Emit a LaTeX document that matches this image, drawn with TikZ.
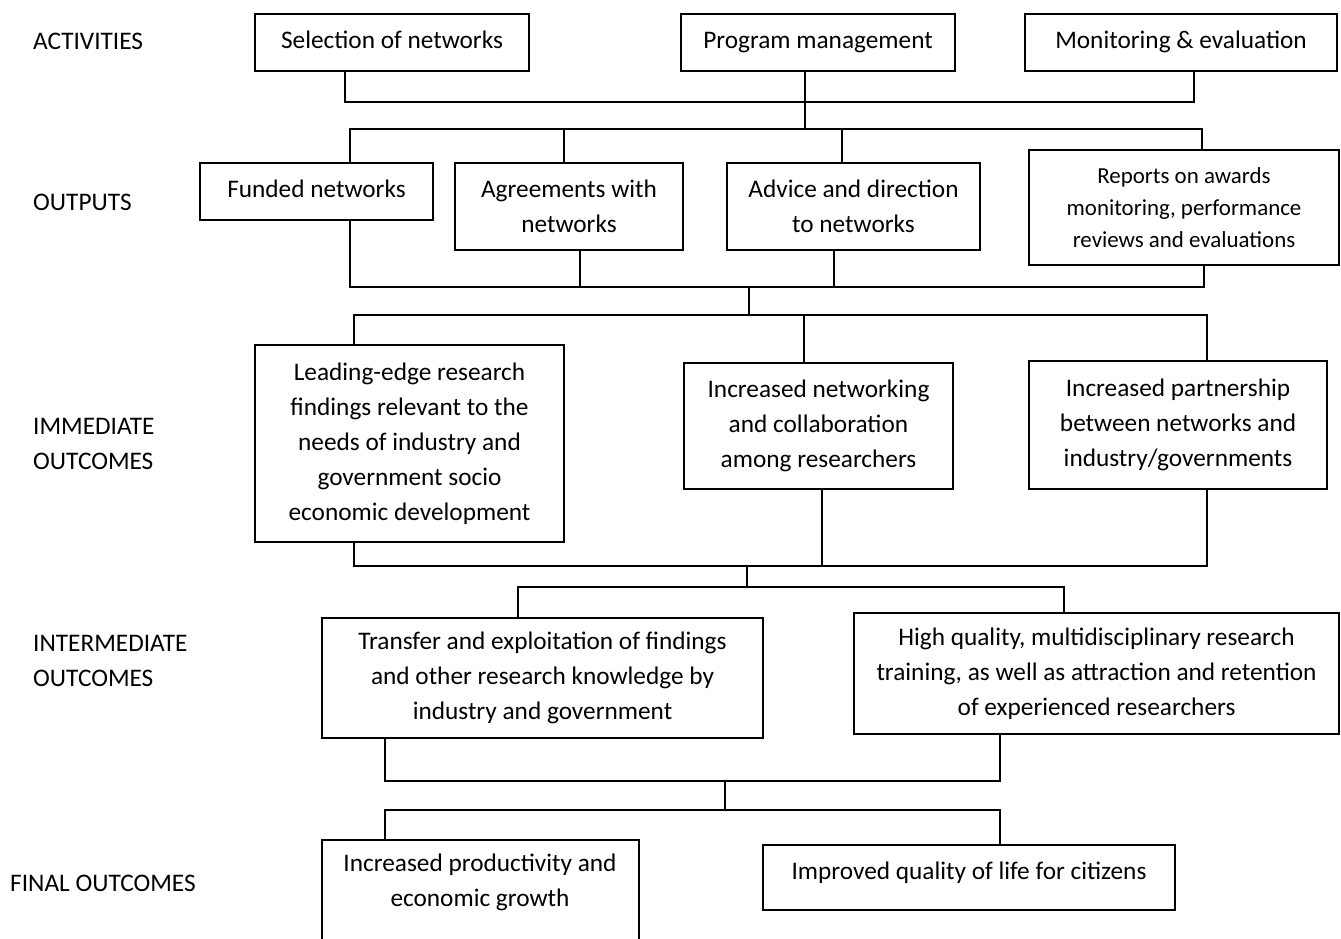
\documentclass[tikz,border=0pt]{standalone}
\usepackage{fontspec}
\setmainfont{Carlito}
\newcommand{\bodyfont}{\fontsize{25.3}{35}\selectfont}
\newcommand{\smallbodyfont}{\fontsize{22.9}{32}\selectfont}
\tikzset{
  box/.style={draw, line width=1.8pt, inner sep=0pt, align=center, font=\bodyfont},
  oneline/.style={text height=17.5pt, text depth=6pt},
  txt/.style={inner sep=0pt, align=center, font=\bodyfont},
  lbl/.style={inner sep=0pt, align=left, anchor=west, font=\bodyfont},
  conn/.style={line width=1.6pt},
}
\begin{document}
\begin{tikzpicture}[x=1pt,y=-1pt]
\path[use as bounding box] (0,0) rectangle (1341,939);
\clip (0,0) rectangle (1341,939);
\fill[white] (0,0) rectangle (1341,939);

% row labels
\node[lbl] (lact) at (33,41) {ACTIVITIES};
\node[lbl] (lout) at (33,202) {OUTPUTS};
\node[lbl] (limm) at (33,444) {IMMEDIATE\\OUTCOMES};
\node[lbl] (lint) at (33,661) {INTERMEDIATE\\OUTCOMES};
\node[lbl] (lfin) at (10,883) {FINAL OUTCOMES};

% activities
\node[box, oneline, minimum width=274, minimum height=57] (sel) at (392,42.5) {Selection of networks};
\node[box, oneline, minimum width=274, minimum height=57] (pm) at (818,42.5) {Program management};
\node[box, oneline, minimum width=312, minimum height=57] (mon) at (1181,42.5) {Monitoring \& evaluation};

% outputs
\node[box, oneline, minimum width=233, minimum height=57] (fund) at (316.5,191.5) {Funded networks};
\node[box, minimum width=228, minimum height=87] (agr) at (569,206.5) {Agreements with\\networks};
\node[box, minimum width=253, minimum height=87] (adv) at (853.5,206.5) {Advice and direction\\to networks};
\node[box, minimum width=310, minimum height=115, font=\smallbodyfont] (rep) at (1184,207.5) {Reports on awards\\monitoring, performance\\reviews and evaluations};

% immediate outcomes
\node[box, minimum width=309, minimum height=197] (lead) at (409.5,443.5) {Leading-edge research\\findings relevant to the\\needs of industry and\\government socio\\economic development};
\node[box, minimum width=269, minimum height=126] (net) at (818.5,426) {Increased networking\\and collaboration\\among researchers};
\node[box, minimum width=298, minimum height=128] (part) at (1178,425) {Increased partnership\\between networks and\\industry/governments};

% intermediate outcomes
\node[box, minimum width=441, minimum height=120] (trans) at (542.5,678) {Transfer and exploitation of findings\\and other research knowledge by\\industry and government};
\node[box, minimum width=485, minimum height=121] (hq) at (1096.5,673.5) {High quality, multidisciplinary research\\training, as well as attraction and retention\\of experienced researchers};

% final outcomes
\node[box, minimum width=317, minimum height=130] (prod) at (480.5,905) {};
\node[txt] (prodt) at (480,882) {Increased productivity and\\economic growth};
\node[box, text height=17.5pt, text depth=14pt, minimum width=412, minimum height=65] (impr) at (969,877.5) {Improved quality of life for citizens};

% junction coordinates
\coordinate (b1L) at (345,102);
\coordinate (b1M) at (805,102);
\coordinate (b1R) at (1194,102);
\coordinate (b2L) at (350,129);
\coordinate (b2M) at (805,129);
\coordinate (b2a) at (564,129);
\coordinate (b2b) at (842,129);
\coordinate (b2R) at (1202,129);
\coordinate (b3L) at (350,287);
\coordinate (b3a) at (580,287);
\coordinate (b3b) at (834,287);
\coordinate (b3M) at (749,287);
\coordinate (b3R) at (1204,287);
\coordinate (b4L) at (354,315);
\coordinate (b4M) at (749,315);
\coordinate (b4a) at (804,315);
\coordinate (b4R) at (1207,315);
\coordinate (b5L) at (354,566);
\coordinate (b5a) at (822,566);
\coordinate (b5M) at (747,566);
\coordinate (b5R) at (1207,566);
\coordinate (b6L) at (518,587);
\coordinate (b6M) at (747,587);
\coordinate (b6R) at (1064,587);
\coordinate (b7L) at (385,781);
\coordinate (b7M) at (725,781);
\coordinate (b7R) at (1000,781);
\coordinate (b8L) at (385,810);
\coordinate (b8M) at (725,810);
\coordinate (b8R) at (1000,810);

% activities -> outputs
\draw[conn] (sel.south -| b1L) -- (b1L) -- (b1R) -- (mon.south -| b1R);
\draw[conn] (pm.south -| b1M) -- (b1M) -- (b2M);
\draw[conn] (fund.north -| b2L) -- (b2L) -- (b2R) -- (rep.north -| b2R);
\draw[conn] (b2a) -- (agr.north -| b2a);
\draw[conn] (b2b) -- (adv.north -| b2b);

% outputs -> immediate
\draw[conn] (fund.south -| b3L) -- (b3L) -- (b3R) -- (rep.south -| b3R);
\draw[conn] (agr.south -| b3a) -- (b3a);
\draw[conn] (adv.south -| b3b) -- (b3b);
\draw[conn] (b3M) -- (b4M);
\draw[conn] (lead.north -| b4L) -- (b4L) -- (b4R) -- (part.north -| b4R);
\draw[conn] (b4a) -- (net.north -| b4a);

% immediate -> intermediate
\draw[conn] (lead.south -| b5L) -- (b5L) -- (b5R) -- (part.south -| b5R);
\draw[conn] (net.south -| b5a) -- (b5a);
\draw[conn] (b5M) -- (b6M);
\draw[conn] (trans.north -| b6L) -- (b6L) -- (b6R) -- (hq.north -| b6R);

% intermediate -> final
\draw[conn] (trans.south -| b7L) -- (b7L) -- (b7R) -- (hq.south -| b7R);
\draw[conn] (b7M) -- (b8M);
\draw[conn] (prod.north -| b8L) -- (b8L) -- (b8R) -- (impr.north -| b8R);
\end{tikzpicture}
\end{document}
